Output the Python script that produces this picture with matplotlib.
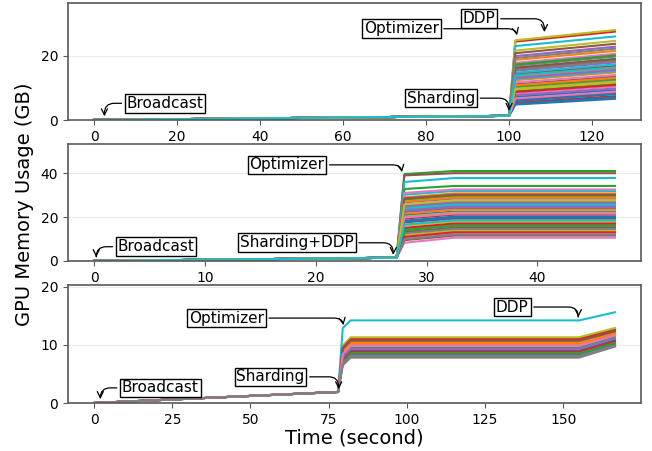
# GPU memory per rank over time, three runs

import matplotlib
matplotlib.use('Agg')
import matplotlib.pyplot as plt

# ---- top run: key times and per-line values
t_top = [0, 100, 101.5, 125.5]
ramp_top = 1.3
a_top = [4.8, 12.4, 9.0, 24.4, 15.3, 6.3, 17.8, 10.0, 24.8, 23.0,
         7.2, 13.6, 16.3, 5.4, 19.9, 11.1, 8.2, 15.7, 21.6, 12.8,
         5.9, 18.7, 10.5, 14.3, 7.7, 20.8, 11.7, 16.9, 9.5, 14.7,
         5.0, 10.8, 17.3, 8.7, 13.1, 16.2, 6.7, 19.3, 9.7, 13.9]
c_top = [6.6, 14.8, 11.2, 27.5, 17.9, 8.4, 20.6, 12.3, 28.0, 26.0,
         9.3, 16.1, 19.0, 7.4, 22.8, 13.5, 10.4, 18.4, 24.6, 15.2,
         8.0, 21.5, 12.8, 16.8, 9.8, 23.7, 14.0, 19.7, 11.7, 17.3,
         7.0, 13.1, 20.1, 10.9, 15.6, 18.9, 8.8, 22.2, 11.9, 16.4]

# ---- middle run
t_mid = [0, 27.3, 28, 32.5, 47]
ramp_mid = 1.5
a_mid = [20.9, 25.3, 39.6, 17.6, 23.3, 39.0, 8.3, 14.5, 11.8, 36.0,
         22.3, 29.0, 32.8, 19.3, 26.7, 13.2, 10.3, 24.5, 16.1, 30.2,
         18.4, 21.6, 27.9, 15.1, 25.0, 9.5, 31.0, 12.6, 20.2, 23.9,
         17.9, 27.1, 14.0, 11.0, 22.7, 28.5, 19.8, 9.9, 25.8, 16.6]
b_mid = [22.5, 27.0, 41.0, 19.3, 25.1, 40.0, 10.6, 16.4, 13.8, 37.8,
         24.0, 30.8, 34.2, 21.1, 28.4, 15.2, 12.4, 26.3, 18.0, 31.9,
         20.2, 23.4, 29.6, 17.1, 26.8, 11.6, 32.6, 14.6, 22.0, 25.7,
         19.8, 28.9, 16.0, 13.1, 24.5, 30.2, 21.6, 12.0, 27.6, 18.6]

# ---- bottom run
t_bot = [0, 78, 79.5, 82, 155, 166.5]
ramp_bot = 1.9
q_bot = [7.6, 9.0, 8.2, 7.4, 7.9, 9.7, 8.6, 6.5, 9.9, 12.9,
         6.9, 8.8, 7.1, 9.5, 6.8, 9.3, 8.4, 6.7]
p_bot = [9.0, 10.5, 9.6, 8.8, 9.3, 11.1, 10.0, 7.8, 11.3, 14.2,
         8.3, 10.2, 8.5, 10.9, 8.1, 10.7, 9.8, 8.0]
e_bot = [10.8, 12.2, 11.4, 10.6, 11.1, 12.7, 11.8, 9.7, 12.9, 15.6,
         10.1, 11.9, 10.3, 12.5, 9.9, 12.3, 11.6, 9.8]

# annotations: (label, point, text position)
notes_top = [("Broadcast", (2.5, 0.3), (17.1, 5.2)),
             ("Sharding", (100, 2.0), (83.6, 6.8)),
             ("Optimizer", (102, 25.5), (74.0, 28.4)),
             ("DDP", (108.5, 26.5), (92.8, 31.5))]
notes_mid = [("Broadcast", (0.2, 0.5), (5.6, 6.5)),
             ("Sharding+DDP", (27, 1.5), (18.3, 8.3)),
             ("Optimizer", (27.8, 39.2), (17.4, 43.8))]
notes_bot = [("Broadcast", (2, 0.2), (21.2, 2.6)),
             ("Sharding", (78.2, 1.9), (56.4, 4.5)),
             ("Optimizer", (79.8, 12.9), (42.3, 14.6)),
             ("DDP", (154.8, 14.3), (133.7, 16.5))]

fig = plt.figure(figsize=(6.52, 4.51), dpi=100)
ax1 = fig.add_axes([0.1043, 0.7339, 0.8788, 0.2594])
ax2 = fig.add_axes([0.1043, 0.4213, 0.8788, 0.2594])
ax3 = fig.add_axes([0.1043, 0.1064, 0.8788, 0.2616])

for a, c in zip(a_top, c_top):
    ax1.plot(t_top, [0, ramp_top, a, c], lw=1.5)
for a, b in zip(a_mid, b_mid):
    ax2.plot(t_mid, [0, ramp_mid, a, b, b], lw=1.5)
for q, p, e in zip(q_bot, p_bot, e_bot):
    ax3.plot(t_bot, [0, ramp_bot, q, p, p, e], lw=1.5)


def annotate(ax, notes):
    for label, xy, xyt in notes:
        ax.annotate(label, xy=xy, xytext=xyt, ha='center', va='center',
                    fontsize=11,
                    bbox=dict(boxstyle='square,pad=0.12', fc='white',
                              ec='black', lw=1),
                    arrowprops=dict(arrowstyle='->', color='black', lw=0.9,
                                    connectionstyle='angle,angleA=0,angleB=90,rad=10'))


annotate(ax1, notes_top)
annotate(ax2, notes_mid)
annotate(ax3, notes_bot)

ax1.set_ylim(0, max(c_top) * 1.3)
ax2.set_ylim(0, max(b_mid) * 1.3)
ax3.set_ylim(0, max(e_bot) * 1.3)
ax1.set_yticks([0, 20])
ax2.set_yticks([0, 20, 40])
ax3.set_yticks([0, 10, 20])

for ax in (ax1, ax2, ax3):
    ax.grid(axis='y', color='0.92', lw=0.8)
    ax.set_axisbelow(True)
    for s in ax.spines.values():
        s.set_color('0.35')
        s.set_linewidth(1.2)
    ax.tick_params(labelsize=10, color='0.35')

ax3.set_xlabel('Time (second)', fontsize=14, labelpad=1)
fig.text(25 / 652, 1 - 204 / 451, 'GPU Memory Usage (GB)', rotation=90,
         ha='center', va='center', fontsize=14)

fig.savefig('out.png', dpi=100)
